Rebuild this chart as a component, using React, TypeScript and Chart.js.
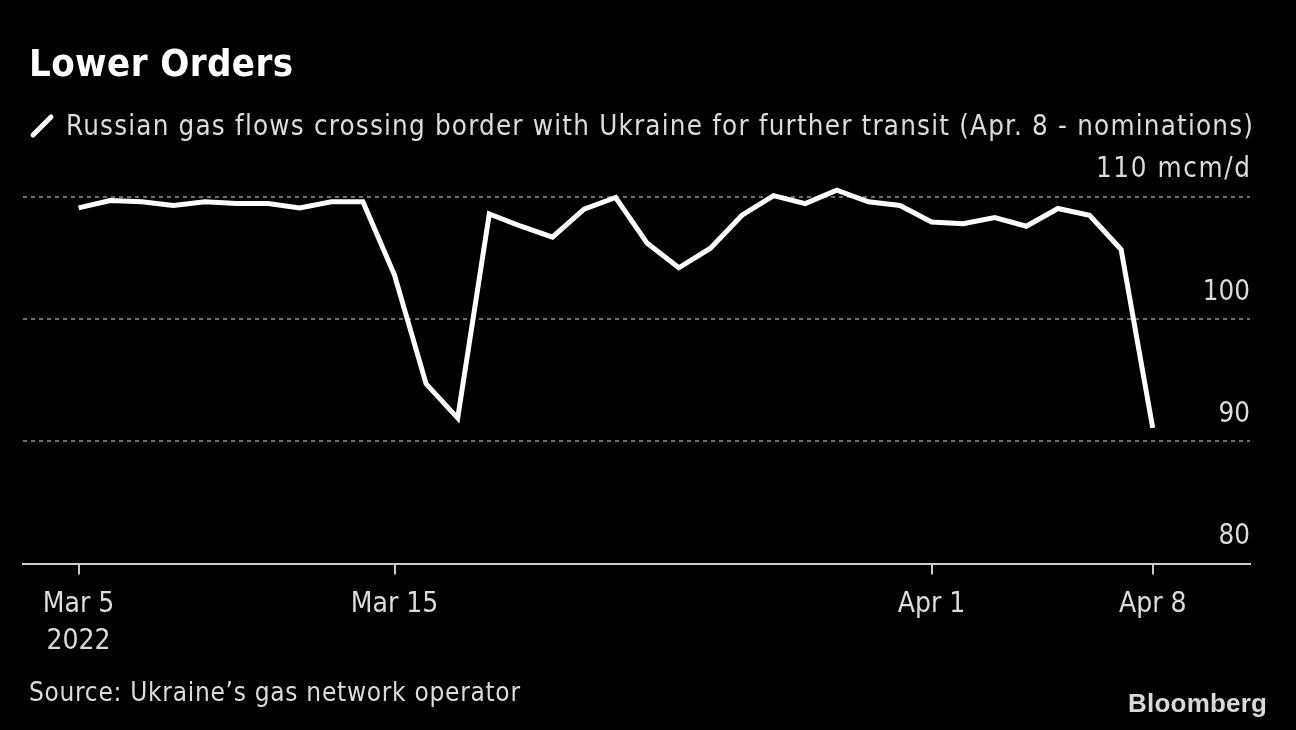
import React, { useEffect, useRef } from "react";
import { Chart, registerables } from "chart.js";

Chart.register(...registerables);

const dates: string[] = [
  "Mar 5", "Mar 6", "Mar 7", "Mar 8", "Mar 9", "Mar 10", "Mar 11", "Mar 12", "Mar 13", "Mar 14",
  "Mar 15", "Mar 16", "Mar 17", "Mar 18", "Mar 19", "Mar 20", "Mar 21", "Mar 22", "Mar 23", "Mar 24",
  "Mar 25", "Mar 26", "Mar 27", "Mar 28", "Mar 29", "Mar 30", "Mar 31", "Apr 1", "Apr 2", "Apr 3",
  "Apr 4", "Apr 5", "Apr 6", "Apr 7", "Apr 8",
];

const flows: number[] = [
  109.1, 109.7, 109.6, 109.3, 109.6, 109.45, 109.45, 109.1, 109.6, 109.6,
  103.6, 94.7, 91.9, 108.6, 107.6, 106.7, 109.0, 109.95, 106.2, 104.2,
  105.8, 108.5, 110.1, 109.45, 110.55, 109.6, 109.3, 107.95, 107.8, 108.3,
  107.6, 109.05, 108.5, 105.7, 91.1,
];

const xTickIndex: number[] = [0, 10, 27, 34];
const xTickLabels: (string | string[])[] = [["Mar 5", "2022"], "Mar 15", "Apr 1", "Apr 8"];

const yTickValues: number[] = [80, 90, 100, 110];
const yTickLabels: string[] = ["80", "90", "100", "110 mcm/d"];

const titleText = "Lower Orders";
const legendText = "Russian gas flows crossing border with Ukraine for further transit (Apr. 8 - nominations)";
const sourceText = "Source: Ukraine\u2019s gas network operator";
const logoText = "Bloomberg";

const FONT = '"DejaVu Sans Condensed", "Liberation Sans Narrow", "DejaVu Sans", sans-serif';
const TEXT = "#dcdcdc";

function drawFit(ctx: any, text: string, x: number, y: number, font: string, target: number | null, align: "left" | "right") {
  ctx.font = font;
  ctx.letterSpacing = "0px";
  let spacing = 0;
  if (target) {
    const w = ctx.measureText(text).width;
    spacing = (target - w) / Math.max(1, text.length - 1);
    ctx.letterSpacing = `${spacing}px`;
  }
  ctx.textAlign = "left";
  let start = x;
  if (align === "right") {
    const w2 = ctx.measureText(text).width - spacing;
    start = x - w2;
  }
  ctx.fillText(text, start, y);
  ctx.letterSpacing = "0px";
}

export default function App() {
  const ref = useRef<HTMLCanvasElement | null>(null);

  useEffect(() => {
    const canvas = ref.current;
    if (!canvas) return;

    const decor = {
      id: "decor",
      beforeDraw(chart: any) {
        const ctx = chart.ctx;
        ctx.save();
        ctx.fillStyle = "#000";
        ctx.fillRect(0, 0, chart.width, chart.height);
        ctx.restore();
      },
      afterDraw(chart: any) {
        const ctx = chart.ctx;
        const y = chart.scales.y;
        const area = chart.chartArea;
        ctx.save();
        ctx.textBaseline = "alphabetic";
        // title
        ctx.fillStyle = "#fff";
        drawFit(ctx, titleText, 29, 76, `bold 38px ${FONT}`, 264, "left");
        // legend icon
        ctx.strokeStyle = "#fff";
        ctx.lineWidth = 5;
        ctx.lineCap = "round";
        ctx.beginPath();
        ctx.moveTo(33, 135);
        ctx.lineTo(51, 117);
        ctx.stroke();
        // legend text
        ctx.fillStyle = TEXT;
        drawFit(ctx, legendText, 66, 135, `27.5px ${FONT}`, 1187, "left");
        // y labels
        yTickValues.forEach((v, i) => {
          const lbl = yTickLabels[i];
          const target = lbl.length > 4 ? 154 : null;
          drawFit(ctx, lbl, area.right, y.getPixelForValue(v) - 19.5, `27.5px ${FONT}`, target, "right");
        });
        // source
        drawFit(ctx, sourceText, 29, 701, `26px ${FONT}`, 491, "left");
        // logo
        ctx.fillStyle = "#d9d9d9";
        drawFit(ctx, logoText, 1267, 712, `bold 26px "Liberation Sans", Arial, sans-serif`, 139, "right");
        ctx.restore();
      },
    };

    const chart = new Chart(canvas, {
      type: "line",
      data: {
        datasets: [
          {
            label: legendText,
            data: flows.map((v, i) => ({ x: i, y: v })),
            borderColor: "#ffffff",
            borderWidth: 5,
            pointRadius: 0,
            tension: 0,
            fill: false,
          },
        ],
      },
      options: {
        animation: false,
        responsive: false,
        devicePixelRatio: 1,
        layout: { padding: { left: 23, right: 46, top: 148, bottom: 0 } },
        plugins: {
          legend: { display: false },
          title: { display: false },
          tooltip: { enabled: false },
        },
        scales: {
          x: {
            type: "linear",
            min: -1.76,
            max: 37.08,
            afterBuildTicks: (scale: any) => {
              scale.ticks = xTickIndex.map((v) => ({ value: v }));
            },
            afterFit: (scale: any) => {
              scale.height = 166.5;
            },
            ticks: {
              autoSkip: false,
              maxRotation: 0,
              color: TEXT,
              font: { family: FONT, size: 28, lineHeight: 1.31 },
              padding: 12,
              callback: (value: any) => {
                const k = xTickIndex.indexOf(Number(value));
                return k >= 0 ? xTickLabels[k] : null;
              },
            },
            grid: {
              display: true,
              drawOnChartArea: false,
              drawTicks: true,
              tickLength: 11,
              color: "#cccccc",
              lineWidth: 2,
            },
            border: { display: true, color: "#cccccc", width: 2 },
          },
          y: {
            type: "linear",
            position: "right",
            min: 80,
            max: 114,
            afterBuildTicks: (scale: any) => {
              scale.ticks = yTickValues.map((v) => ({ value: v }));
            },
            afterFit: (scale: any) => {
              scale.width = 0;
            },
            ticks: { display: false },
            grid: {
              drawTicks: false,
              color: (ctx: any) => (ctx.tick && ctx.tick.value === 80 ? "rgba(0,0,0,0)" : "#6e6e6e"),
              lineWidth: 2,
            },
            border: { display: false, dash: [4, 4] },
          },
        },
      },
      plugins: [decor],
    });

    return () => chart.destroy();
  }, []);

  return (
    <div style={{ position: "fixed", left: 0, top: 0, width: 1296, height: 730, background: "#000" }}>
      <canvas ref={ref} width={1296} height={730} style={{ display: "block", width: 1296, height: 730 }} />
    </div>
  );
}
